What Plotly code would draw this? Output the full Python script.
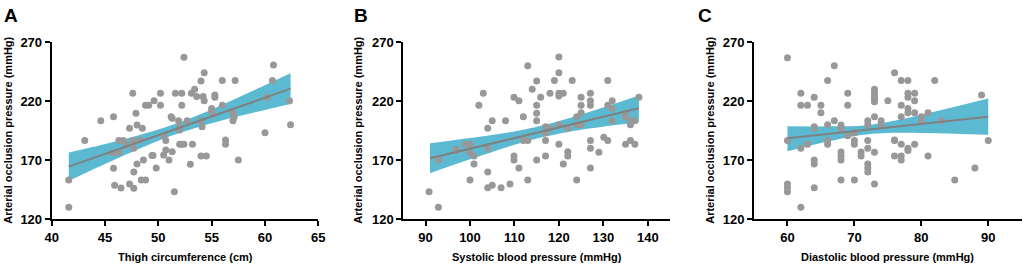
import plotly.graph_objects as go

# ---------------- data ----------------
# Panel A: thigh circumference (cm) vs AOP (mmHg)
a_x = [41.6, 41.6, 43.1, 44.6, 45.8, 45.7, 45.8, 45.9, 46.3, 46.3, 46.5, 46.7, 47.0, 47.3, 47.3,
       47.6, 47.6, 47.7, 47.7, 47.7, 47.9, 48.0, 48.0, 48.3, 48.5, 48.6, 48.4, 48.8, 48.8, 49.1,
       49.4, 49.5, 49.6, 49.8, 50.2, 50.2, 50.5, 50.5, 50.7, 50.7, 51.0, 51.3, 51.2, 51.3, 51.5,
       51.6, 51.9, 52.0, 52.0, 52.2, 52.2, 52.2, 52.4, 52.4, 52.0, 52.7, 53.0, 53.2, 53.1, 53.4,
       53.6, 54.0, 54.3, 54.2, 54.3, 54.0, 54.1, 54.0, 54.5, 55.3, 55.3, 55.0, 55.0, 55.1, 56.0,
       56.0, 56.3, 56.3, 57.0, 57.1, 57.0, 57.2, 57.5, 60.0, 60.2, 60.7, 60.8, 62.3, 62.4]
a_y = [153.3, 130.2, 186.7, 203.6, 207.0, 176.5, 163.2, 148.8, 176.5, 186.7, 146.6, 186.7, 183.0, 197.1, 149.9,
       226.8, 186.7, 146.3, 160.1, 180.2, 209.8, 199.9, 166.9, 187.3, 197.1, 170.3, 153.3, 153.3, 216.6, 216.6,
       174.0, 174.0, 220.5, 163.5, 216.6, 226.8, 190.7, 174.5, 186.7, 178.8, 170.3, 177.3, 207.0, 205.6, 143.4,
       226.8, 203.6, 198.5, 183.6, 226.8, 216.6, 183.6, 183.6, 257.3, 195.7, 203.6, 166.6, 183.6, 226.8, 230.2,
       224.0, 237.2, 244.3, 224.0, 220.5, 203.6, 198.5, 173.7, 173.7, 225.4, 223.4, 213.8, 211.8, 209.3, 237.7,
       216.6, 187.3, 183.6, 209.8, 206.4, 203.6, 237.7, 170.3, 193.4, 223.4, 237.7, 250.7, 220.5, 200.2]
a_fit_x = [41.6, 62.4]
a_fit_y = [164.6, 230.7]
a_band_x = [41.6, 45.0, 48.0, 50.0, 51.5, 55.0, 58.0, 60.0, 62.4]
a_band_hi = [176.6, 183.9, 190.9, 196.1, 200.6, 213.1, 225.3, 233.7, 243.7]
a_band_lo = [152.6, 166.9, 178.9, 186.5, 191.6, 201.3, 208.3, 212.7, 217.7]

# Panel B: systolic blood pressure (mmHg) vs AOP
b_x = [90.8, 92.9, 92.9, 96.8, 97.0, 98.9, 100, 99.8, 100, 100.9, 100.9, 102, 103, 104, 104,
       104, 104, 105, 105, 107, 108, 109, 109.9, 109.9, 109.9, 111, 111, 112, 112, 113,
       113, 113, 114, 115, 115, 115, 115, 115, 115.9, 117, 117, 117, 117, 118, 118,
       119, 120, 120, 120, 120, 121, 120, 120, 121, 122, 122, 122, 123, 124, 124,
       124, 125, 125, 125, 125, 127.1, 127.1, 127.1, 127.1, 127.1, 127.1, 129, 130.1, 131, 131,
       131, 132, 132, 132, 135, 135, 135, 136.1, 136.1, 136.1, 137.1, 137.1, 138]
b_y = [143.4, 130.2, 170.3, 179.3, 178.2, 183.6, 183.6, 177.0, 153.3, 173.7, 166.9, 216.6, 226.8, 197.1, 180.2,
       160.1, 146.8, 203.6, 148.8, 146.8, 203.6, 149.9, 223.4, 173.7, 170.3, 220.5, 163.5, 207.0, 186.7, 186.7,
       250.1, 153.3, 230.2, 237.3, 216.6, 209.8, 203.6, 170.3, 223.4, 198.5, 193.4, 186.7, 173.7, 226.8, 197.1,
       237.7, 257.5, 244.3, 226.8, 224.5, 226.8, 200.2, 183.6, 166.9, 177.3, 173.7, 197.1, 237.7, 207.0, 200.2,
       153.3, 223.4, 216.6, 210.4, 200.2, 226.8, 220.5, 216.6, 186.7, 180.2, 163.5, 176.8, 189.5, 237.7, 216.6,
       186.7, 220.5, 213.8, 203.6, 209.8, 207.0, 183.6, 203.6, 200.2, 186.7, 203.6, 183.6, 223.4]
b_fit_x = [91, 138]
b_fit_y = [171.7, 214.1]
b_band_x = [91, 100, 110, 116, 125, 138]
b_band_hi = [184.4, 188.8, 194.5, 199.3, 208.9, 225.0]
b_band_lo = [159.0, 170.8, 183.1, 189.3, 195.9, 202.3]

# Panel C: diastolic blood pressure (mmHg) vs AOP
c_x = [60, 60, 60, 60, 60, 62, 62, 62, 62, 63, 63, 64, 64, 64, 64,
       64, 64, 65, 65, 66, 66, 66, 66, 67, 67, 68, 68, 68, 68, 68,
       68, 69, 69, 69, 70, 70, 70, 70, 71, 71, 72, 72, 72, 72, 72,
       72, 72, 73, 73, 73, 73, 73, 73, 73, 73, 74, 74, 75, 76, 76,
       76, 76, 77, 77, 77, 77, 77, 77, 78, 78, 78, 78, 78, 78, 78,
       79, 79, 79, 79, 80, 80, 81, 81, 82, 83, 85, 88, 89, 90]
c_y = [257.0, 186.7, 149.9, 146.8, 143.4, 226.8, 216.6, 180.2, 130.2, 216.6, 183.6, 223.4, 198.5, 197.0, 170.3,
       166.9, 146.8, 216.6, 210.4, 237.7, 200.2, 186.7, 183.6, 250.1, 203.6, 200.0, 197.0, 177.0, 173.7, 170.3,
       153.3, 226.8, 216.6, 190.8, 193.4, 186.7, 183.6, 153.3, 177.0, 173.7, 203.6, 200.2, 186.7, 180.2, 166.9,
       163.5, 160.1, 230.2, 226.8, 224.0, 221.8, 219.7, 207.0, 176.8, 149.9, 203.6, 200.2, 220.5, 244.3, 187.3,
       186.7, 173.7, 237.7, 216.6, 207.0, 183.6, 173.7, 170.3, 237.7, 226.8, 223.4, 213.8, 210.4, 180.2, 178.2,
       226.8, 220.5, 210.4, 183.6, 207.0, 203.6, 210.4, 173.7, 237.7, 203.6, 153.3, 163.5, 225.4, 186.7]
c_fit_x = [60, 90]
c_fit_y = [188.6, 207.0]
c_band_x = [60, 65, 70, 72, 75, 80, 85, 90]
c_band_hi = [198.8, 198.7, 199.0, 200.0, 202.5, 208.6, 215.3, 222.3]
c_band_lo = [177.6, 184.7, 190.4, 192.0, 193.1, 193.2, 192.5, 191.6]

panel_letters = ["A", "B", "C"]
x_titles = ["Thigh circumference (cm)", "Systolic blood pressure (mmHg)", "Diastolic blood pressure (mmHg)"]
y_title = "Arterial occlusion pressure (mmHg)"
y_ticks = [120, 170, 220, 270]
x_ticks = [[40, 45, 50, 55, 60, 65], [90, 100, 110, 120, 130, 140], [60, 70, 80, 90]]
x_ranges = [[40, 65], [85, 145], [55, 95]]

# ---------------- styling ----------------
W, H = 1024, 264
BAND = "rgb(91,186,210)"
DOT = "rgb(152,152,152)"
LINE = "rgb(128,128,128)"
FONT = "Liberation Sans, Arial, sans-serif"

x_px = [(51.7, 318.3), (403.3, 670.0), (754.0, 1021.7)]
y_px = (42.3, 219.3)
ydom = [1 - y_px[1] / H, 1 - y_px[0] / H]

fig = go.Figure()
panels = [
    (a_x, a_y, a_fit_x, a_fit_y, a_band_x, a_band_hi, a_band_lo),
    (b_x, b_y, b_fit_x, b_fit_y, b_band_x, b_band_hi, b_band_lo),
    (c_x, c_y, c_fit_x, c_fit_y, c_band_x, c_band_hi, c_band_lo),
]

for i, (px, py, fx, fy, bx, bhi, blo) in enumerate(panels):
    xa = "x" if i == 0 else f"x{i+1}"
    ya = "y" if i == 0 else f"y{i+1}"
    fig.add_trace(go.Scatter(x=bx, y=blo, mode="lines", line=dict(width=0, color=BAND, shape="spline"),
                             xaxis=xa, yaxis=ya, showlegend=False, hoverinfo="skip"))
    fig.add_trace(go.Scatter(x=bx, y=bhi, mode="lines", line=dict(width=0, color=BAND, shape="spline"),
                             fill="tonexty", fillcolor=BAND,
                             xaxis=xa, yaxis=ya, showlegend=False, hoverinfo="skip"))
    fig.add_trace(go.Scatter(x=px, y=py, mode="markers", marker=dict(size=7, color=DOT, line=dict(width=0)),
                             xaxis=xa, yaxis=ya, showlegend=False))
    fig.add_trace(go.Scatter(x=fx, y=fy, mode="lines", line=dict(width=2, color=LINE),
                             xaxis=xa, yaxis=ya, showlegend=False))

layout = dict(
    width=W, height=H, autosize=False,
    margin=dict(l=0, r=0, t=0, b=0, pad=0, autoexpand=False),
    paper_bgcolor="white", plot_bgcolor="white", showlegend=False,
    font=dict(family=FONT, color="black"),
)
annotations = []
for i in range(3):
    key = "" if i == 0 else str(i + 1)
    x0, x1 = x_px[i]
    layout["xaxis" + key] = dict(
        domain=[x0 / W, x1 / W], range=x_ranges[i], tickvals=x_ticks[i], automargin=False,
        showline=True, linecolor="black", linewidth=2, ticks="outside", ticklen=5, tickwidth=2,
        tickcolor="black", showgrid=False, zeroline=False, anchor="y" + key,
        tickfont=dict(family=FONT, size=13, color="black", weight="bold"),
    )
    layout["yaxis" + key] = dict(
        domain=ydom, range=[120, 270], tickvals=y_ticks, automargin=False,
        showline=True, linecolor="black", linewidth=2, ticks="outside", ticklen=5, tickwidth=2,
        tickcolor="black", showgrid=False, zeroline=False, anchor="x" + key,
        tickfont=dict(family=FONT, size=13, color="black", weight="bold"),
    )
    # panel letter
    annotations.append(dict(text=f"<b>{panel_letters[i]}</b>", xref="paper", yref="paper",
                            x=[2, 352, 696][i] / W, y=1 - 3 / H, xanchor="left", yanchor="top",
                            showarrow=False, font=dict(family=FONT, size=19, color="black")))
    # x title
    annotations.append(dict(text=f"<b>{x_titles[i]}</b>", xref="paper", yref="paper",
                            x=(x0 + x1) / 2 / W, y=1 - 257 / H, xanchor="center", yanchor="middle",
                            showarrow=False, font=dict(family=FONT, size=11, color="black")))
    # y title
    annotations.append(dict(text=f"<b>{y_title}</b>", xref="paper", yref="paper",
                            x=[8, 358, 710][i] / W, y=1 - 130.8 / H, xanchor="center", yanchor="middle",
                            textangle=-90, showarrow=False, font=dict(family=FONT, size=11, color="black")))
layout["annotations"] = annotations
fig.update_layout(**layout)

fig.write_html("out.html", config={"displayModeBar": False},
               post_script="document.body.style.margin='0';document.body.style.overflow='hidden';")
